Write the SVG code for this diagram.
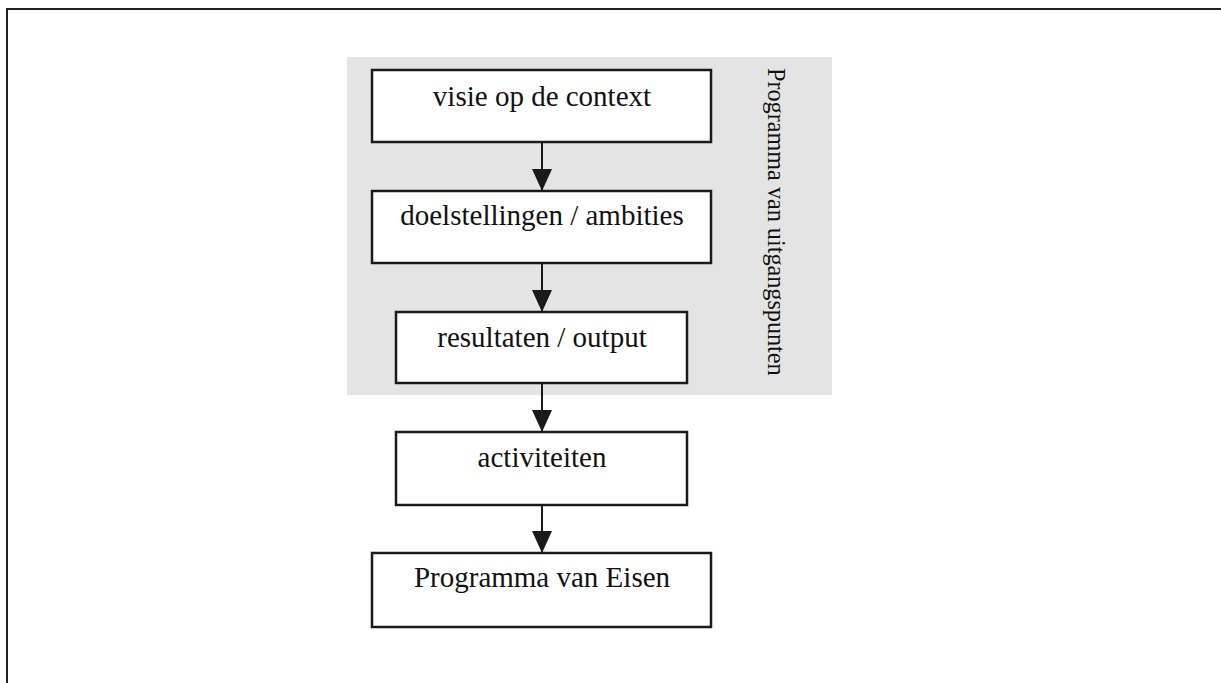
<svg xmlns="http://www.w3.org/2000/svg" width="1221" height="683" viewBox="0 0 1221 683">
  <style>
    .box { fill: #ffffff; stroke: #1a1a1a; stroke-width: 2.5; }
    .lbl { font-family: "Liberation Serif", "Times New Roman", serif; font-size: 29px; fill: #111111; text-anchor: middle; }
    .vlbl { font-family: "Liberation Serif", "Times New Roman", serif; font-size: 24.2px; fill: #111111; }
    .conn { stroke: #1a1a1a; stroke-width: 2; fill: none; }
  </style>
  <defs>
    <marker id="arr" markerUnits="userSpaceOnUse" markerWidth="22" markerHeight="20" refX="22" refY="10" orient="auto" viewBox="0 0 22 20">
      <path d="M0,0 L22,10 L0,20 Z" fill="#1a1a1a"/>
    </marker>
  </defs>
  <rect x="0" y="0" width="1221" height="683" fill="#ffffff"/>
  <g id="frame">
    <path d="M7,683 V9 H1221" fill="none" stroke="#222" stroke-width="2"/>
  </g>
  <g id="group-uitgangspunten">
    <rect x="347" y="57" width="485" height="338" fill="#e4e4e4"/>
    <text class="vlbl" transform="translate(768,68) rotate(90)" x="0" y="0">Programma van uitgangspunten</text>
  </g>
  <g id="connectors">
    <line class="conn" x1="542" y1="142" x2="542" y2="191" marker-end="url(#arr)"/>
    <line class="conn" x1="542" y1="263" x2="542" y2="312" marker-end="url(#arr)"/>
    <line class="conn" x1="542" y1="383" x2="542" y2="432" marker-end="url(#arr)"/>
    <line class="conn" x1="542" y1="505" x2="542" y2="553" marker-end="url(#arr)"/>
  </g>
  <g id="node-visie">
    <rect class="box" x="372" y="70" width="339" height="72"/>
    <text class="lbl" x="542" y="106">visie op de context</text>
  </g>
  <g id="node-doelstellingen">
    <rect class="box" x="372" y="191" width="339" height="72"/>
    <text class="lbl" x="542" y="225">doelstellingen / ambities</text>
  </g>
  <g id="node-resultaten">
    <rect class="box" x="396" y="312" width="291" height="71"/>
    <text class="lbl" x="542" y="347">resultaten / output</text>
  </g>
  <g id="node-activiteiten">
    <rect class="box" x="396" y="432" width="291" height="73"/>
    <text class="lbl" x="542" y="467">activiteiten</text>
  </g>
  <g id="node-pve">
    <rect class="box" x="372" y="553" width="339" height="74"/>
    <text class="lbl" x="542" y="587">Programma van Eisen</text>
  </g>
</svg>
